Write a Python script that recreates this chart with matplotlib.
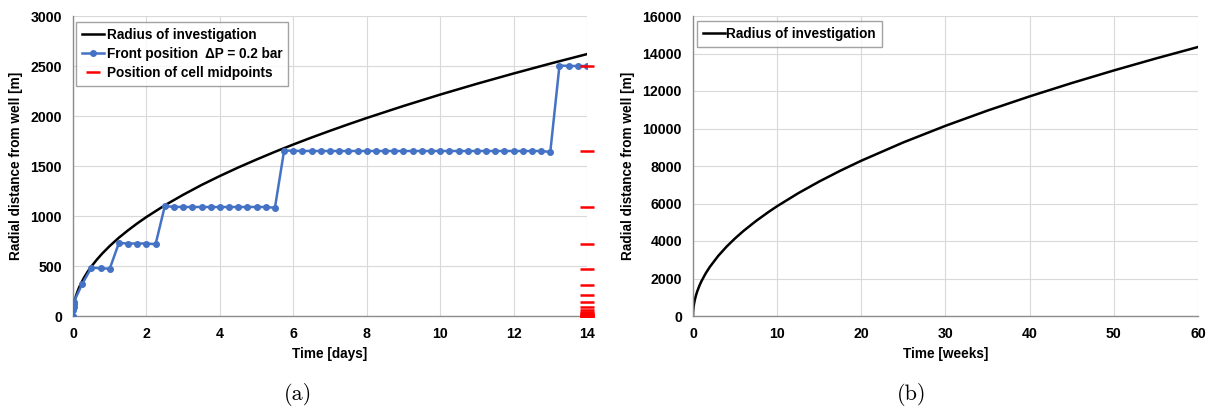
import matplotlib.pyplot as plt

# radius of investigation (days -> m)
roi_days = [0, 0.002, 0.005, 0.01, 0.02, 0.03, 0.05, 0.075, 0.1, 0.15, 0.2, 0.3, 0.4, 0.5, 0.65, 0.8, 1.0,
            1.25, 1.5, 1.75, 2.0, 2.5, 3, 3.5, 4, 4.5, 5, 5.5, 6, 6.5, 7, 7.5, 8, 9, 10, 11, 12, 13, 14]
roi_m = [0, 31, 49, 70, 99, 121, 157, 192, 221, 271, 313, 383, 443, 495, 564, 626, 700,
         783, 857, 926, 990, 1107, 1212, 1310, 1400, 1485, 1565, 1642, 1715, 1785, 1852, 1917, 1980,
         2100, 2214, 2322, 2425, 2524, 2619]

# front position dP = 0.2 bar
front_days = [0, 0.01, 0.015, 0.02, 0.025, 0.25, 0.5, 0.75, 1.0,
              1.25, 1.5, 1.75, 2.0, 2.25,
              2.5, 2.75, 3.0, 3.25, 3.5, 3.75, 4.0, 4.25, 4.5, 4.75, 5.0, 5.25, 5.5,
              5.75, 6.0, 6.25, 6.5, 6.75, 7.0, 7.25, 7.5, 7.75, 8.0, 8.25, 8.5, 8.75, 9.0,
              9.25, 9.5, 9.75, 10.0, 10.25, 10.5, 10.75, 11.0, 11.25, 11.5, 11.75, 12.0,
              12.25, 12.5, 12.75, 13.0,
              13.25, 13.5, 13.75, 14.0]
front_m = [0, 60, 93, 120, 143, 320, 483, 478, 472,
           730, 725, 725, 725, 718,
           1098, 1092, 1090, 1090, 1090, 1090, 1090, 1090, 1090, 1090, 1090, 1090, 1082,
           1655, 1652, 1650, 1650, 1650, 1650, 1650, 1650, 1650, 1650, 1650, 1650, 1650, 1650,
           1650, 1650, 1650, 1650, 1650, 1650, 1650, 1650, 1650, 1650, 1650, 1650,
           1650, 1650, 1650, 1640,
           2505, 2500, 2500, 2500]

# cell midpoints drawn at t = 14 days
cell_mid = [2500, 1650, 1090, 720, 475, 315, 210, 140, 92, 61, 40, 27, 18, 12, 8, 5, 3, 2, 1]
cell_t = 14

# radius of investigation over 60 weeks
roi_weeks = [0, 0.005, 0.02, 0.05, 0.1, 0.2, 0.35, 0.5, 0.75, 1, 1.5, 2, 3, 4, 5, 6, 7.5, 9, 10, 12.5,
             15, 17.5, 20, 25, 30, 35, 40, 45, 50, 55, 60]
roi_weeks_m = [0, 131, 262, 414, 586, 828, 1096, 1310, 1604, 1852, 2268, 2619, 3208, 3704, 4141, 4537,
               5072, 5556, 5857, 6548, 7173, 7748, 8283, 9260, 10144, 10957, 11713, 12424, 13096, 13735, 14346]

BLUE = '#4472C4'
GRID = '#d9d9d9'
SPINE = '#8c8c8c'

plt.rcParams['font.family'] = ['Liberation Sans', 'DejaVu Sans']
plt.rcParams['font.weight'] = 'bold'

fig = plt.figure(figsize=(12.12, 4.09), dpi=100)
ax1 = fig.add_axes([73 / 1212, 1 - 316 / 409, (587 - 73) / 1212, 300 / 409])
ax2 = fig.add_axes([693 / 1212, 1 - 316 / 409, (1198 - 693) / 1212, 300 / 409])


def style(ax):
    ax.grid(True, color=GRID, linewidth=0.8)
    ax.set_axisbelow(True)
    for s in ['top', 'right']:
        ax.spines[s].set_visible(False)
    for s in ['left', 'bottom']:
        ax.spines[s].set_color(SPINE)
        ax.spines[s].set_linewidth(1.0)
    ax.tick_params(length=0, labelsize=10.2, pad=8)
    for lab in ax.get_xticklabels() + ax.get_yticklabels():
        lab.set_fontweight('bold')


ax1.plot(roi_days, roi_m, color='black', linewidth=1.8, label='Radius of investigation', zorder=3)
ax1.plot(front_days, front_m, color=BLUE, linewidth=1.8, marker='o', markersize=4,
         label='Front position  ΔP = 0.2 bar', zorder=4)
ax1.plot([cell_t] * len(cell_mid), cell_mid, linestyle='none', marker='_', markersize=10,
         markeredgewidth=1.8, color='red', label='Position of cell midpoints', zorder=5, clip_on=False)
ax1.set_xlim(0, 14)
ax1.set_ylim(0, 3000)
ax1.set_xticks(range(0, 15, 2))
ax1.set_yticks(range(0, 3001, 500))
ax1.set_xlabel('Time [days]', fontsize=9.8, fontweight='bold', labelpad=4)
ax1.set_ylabel('Radial distance from well [m]', fontsize=9.8, fontweight='bold', labelpad=5)
style(ax1)
leg1 = ax1.legend(loc='upper left', bbox_to_anchor=(0.006, 0.98), borderaxespad=0, fontsize=9.8,
                  frameon=True, fancybox=False, edgecolor=SPINE, handlelength=1.6, handletextpad=0.2,
                  borderpad=0.45, labelspacing=0.35)
leg1.get_frame().set_linewidth(1.0)
for t in leg1.get_texts():
    t.set_fontweight('bold')

ax2.plot(roi_weeks, roi_weeks_m, color='black', linewidth=1.8, label='Radius of investigation')
ax2.set_xlim(0, 60)
ax2.set_ylim(0, 16000)
ax2.set_xticks(range(0, 61, 10))
ax2.set_yticks(range(0, 16001, 2000))
ax2.set_xlabel('Time [weeks]', fontsize=9.8, fontweight='bold', labelpad=4)
ax2.set_ylabel('Radial distance from well [m]', fontsize=9.8, fontweight='bold', labelpad=5)
style(ax2)
leg2 = ax2.legend(loc='upper left', bbox_to_anchor=(0.008, 0.985), borderaxespad=0, fontsize=9.8,
                  frameon=True, fancybox=False, edgecolor=SPINE, handlelength=1.6, handletextpad=0.1,
                  borderpad=0.45)
leg2.get_frame().set_linewidth(1.0)
for t in leg2.get_texts():
    t.set_fontweight('bold')

fig.text(298 / 1212, 1 - 395 / 409, '(a)', fontsize=16, family='cmr10', ha='center', va='center', fontweight='normal')
fig.text(912 / 1212, 1 - 395 / 409, '(b)', fontsize=16, family='cmr10', ha='center', va='center', fontweight='normal')

fig.savefig('out.png', dpi=100)
